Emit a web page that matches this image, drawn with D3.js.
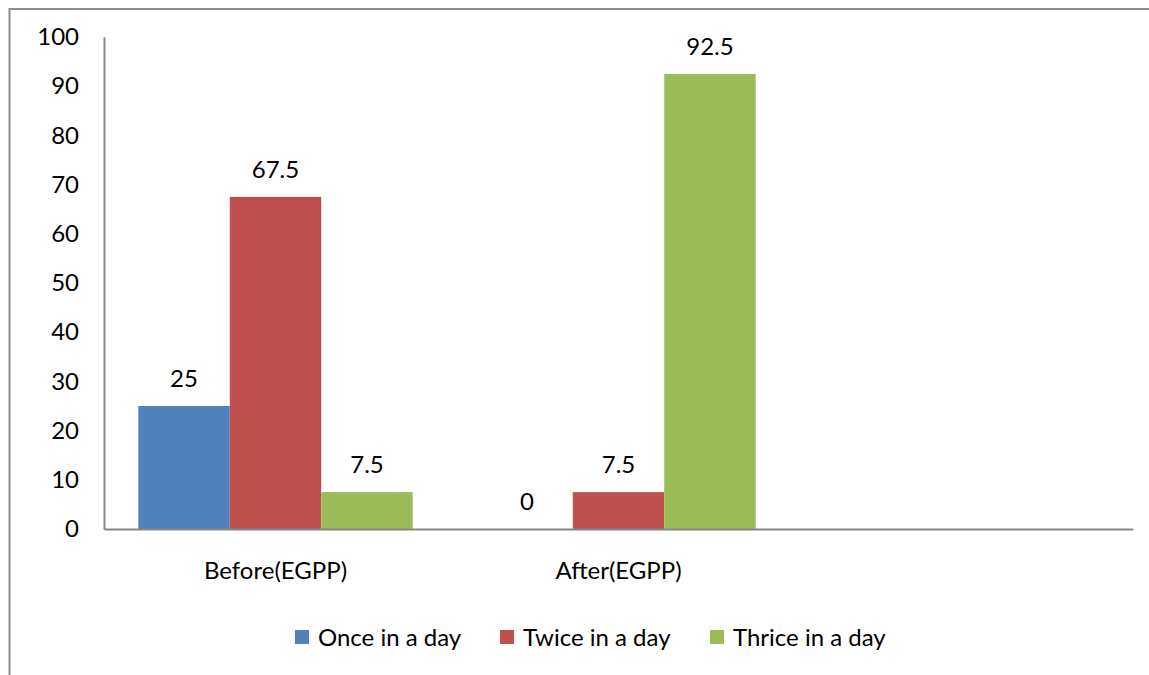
<!DOCTYPE html>
<html>
<head>
<meta charset="utf-8">
<script src="https://cdn.jsdelivr.net/npm/d3@7"></script>
<style>
  html, body { margin: 0; padding: 0; background: #fff; }
  svg { display: block; font-family: Lato, "Open Sans", sans-serif; }
</style>
</head>
<body>
<svg id="chart" width="1149" height="675"></svg>
<script>
// Frequency of the practice before and after EGPP (percent of respondents)
const categories = ["Before(EGPP)", "After(EGPP)", ""];
const seriesNames = ["Once in a day", "Twice in a day", "Thrice in a day"];
const seriesColors = ["#4f81bd", "#c0504d", "#9bbb59"];
const onceValues = [25, 0, null];
const twiceValues = [67.5, 7.5, null];
const thriceValues = [7.5, 92.5, null];
const yTicks = [0, 10, 20, 30, 40, 50, 60, 70, 80, 90, 100];

const series = [onceValues, twiceValues, thriceValues];
const FONT = 24;

const svg = d3.select("#chart");
const margin = { left: 104, right: 16, top: 37, bottom: 146 };
const W = 1149, H = 675;
const plotRight = W - margin.right;
const plotBottom = H - margin.bottom;

// outer chart-area frame (runs off the right and bottom edges)
svg.append("rect")
  .attr("x", 9.5).attr("y", 9)
  .attr("width", W + 20).attr("height", H + 20)
  .attr("fill", "none").attr("stroke", "#8c8c8c").attr("stroke-width", 2);

// one full slot per category; bars fill the middle 80% of each slot
const slot = d3.scaleBand().domain(categories.map((c, i) => i))
  .range([margin.left, plotRight]).padding(0);
const x1 = d3.scaleBand().domain(d3.range(seriesNames.length))
  .range([0, slot.bandwidth() * 0.8]);
const y = d3.scaleLinear().domain([0, 100]).range([plotBottom, margin.top]);

// bars and value labels
const groups = svg.append("g").selectAll("g")
  .data(categories.map((c, i) => i))
  .join("g")
  .attr("transform", i => `translate(${slot(i) + slot.bandwidth() * 0.1},0)`);

groups.each(function (ci) {
  const g = d3.select(this);
  series.forEach((vals, si) => {
    const v = vals[ci];
    if (v === null || v === undefined) return;
    g.append("rect")
      .attr("x", x1(si))
      .attr("y", y(v))
      .attr("width", x1.bandwidth())
      .attr("height", y(0) - y(v))
      .attr("fill", seriesColors[si]);
    g.append("text")
      .attr("x", x1(si) + x1.bandwidth() / 2)
      .attr("y", y(v) - 19)
      .attr("text-anchor", "middle")
      .attr("font-size", FONT)
      .attr("fill", "#000")
      .text(v);
  });
});

// y axis
const yAxis = svg.append("g")
  .attr("transform", `translate(${margin.left},0)`)
  .call(d3.axisLeft(y).tickValues(yTicks).tickSize(0).tickPadding(25));
yAxis.select(".domain").attr("stroke", "#868686").attr("stroke-width", 2);
yAxis.selectAll("text").attr("font-size", FONT).attr("fill", "#000")
  .attr("font-family", "Lato, 'Open Sans', sans-serif");

// x axis
const xAxis = svg.append("g")
  .attr("transform", `translate(0,${plotBottom})`)
  .call(d3.axisBottom(slot).tickFormat(i => categories[i]).tickSize(0).tickPadding(33));
xAxis.select(".domain").attr("stroke", "#868686").attr("stroke-width", 2);
xAxis.selectAll("text").attr("font-size", FONT).attr("fill", "#000")
  .attr("font-family", "Lato, 'Open Sans', sans-serif");

// legend
const legendX = [295, 500, 710];
const legend = svg.append("g");
seriesNames.forEach((name, i) => {
  legend.append("rect")
    .attr("x", legendX[i]).attr("y", 630)
    .attr("width", 14).attr("height", 14)
    .attr("fill", seriesColors[i]);
  legend.append("text")
    .attr("x", legendX[i] + 23).attr("y", 646)
    .attr("font-size", FONT).attr("fill", "#000")
    .text(name);
});
</script>
</body>
</html>
